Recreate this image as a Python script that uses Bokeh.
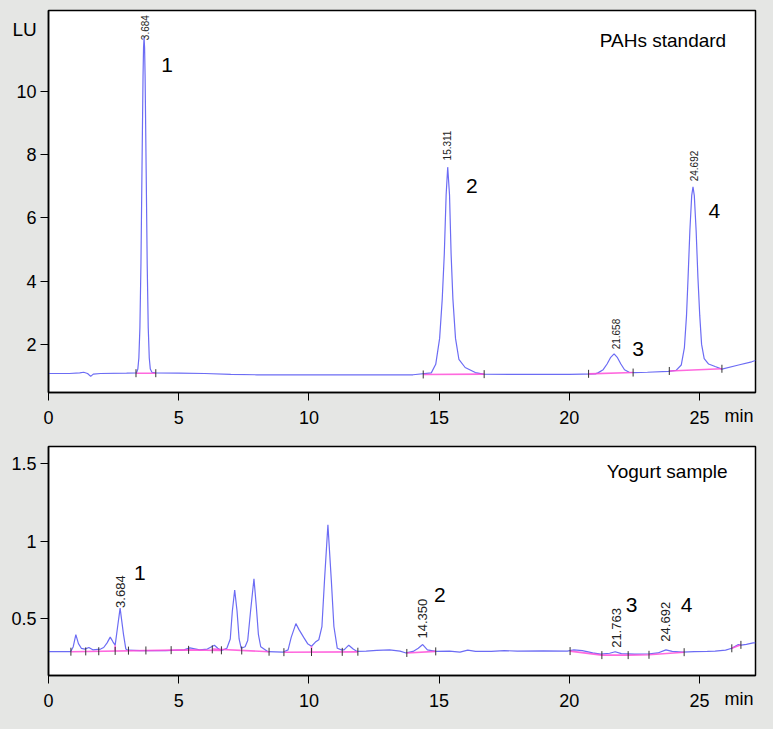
import numpy as np
from bokeh.plotting import figure
from bokeh.layouts import column
from bokeh.models import Range1d, FixedTicker, Label, ColumnDataSource, GlobalInlineStyleSheet
from bokeh.core.properties import value
from bokeh.embed import file_html
from bokeh.resources import INLINE

# ---------------- data ----------------
# PAHs standard chromatogram (time in min, signal in LU)
std_time = [0.0, 0.8, 1.2, 1.35, 1.5, 1.62, 1.72, 2.0, 3.0, 3.38,
            3.43, 3.47, 3.51, 3.55, 3.59, 3.63, 3.65, 3.67, 3.69, 3.71,
            3.75, 3.79, 3.83, 3.87, 3.91, 3.97, 4.10, 5.0, 6.0, 7.0,
            8.0, 10.0, 12.0, 14.0, 14.70, 14.87, 15.02, 15.12, 15.20, 15.27,
            15.33, 15.40, 15.46, 15.53, 15.63, 15.76, 16.00, 16.39, 16.70, 18.0,
            20.0, 21.0, 21.10, 21.30, 21.45, 21.58, 21.72, 21.85, 21.98, 22.12,
            22.30, 22.50, 23.0, 23.8, 24.10, 24.30, 24.42, 24.50, 24.56, 24.63,
            24.70, 24.75, 24.80, 24.87, 24.94, 25.01, 25.08, 25.18, 25.35, 25.60,
            25.86, 26.50, 27.0, 27.15]
std_signal = [1.08, 1.08, 1.10, 1.12, 1.08, 0.99, 1.06, 1.08, 1.09, 1.10,
              1.22, 1.57, 2.53, 4.54, 7.53, 10.45, 11.37, 11.70, 11.37, 10.45,
              7.53, 4.54, 2.53, 1.57, 1.22, 1.12, 1.10, 1.09, 1.08, 1.05,
              1.04, 1.04, 1.04, 1.04, 1.10, 1.37, 2.19, 3.43, 4.87, 6.73,
              7.60, 6.73, 4.87, 3.43, 2.19, 1.53, 1.27, 1.11, 1.06, 1.05,
              1.05, 1.07, 1.10, 1.20, 1.38, 1.58, 1.70, 1.58, 1.38, 1.20,
              1.12, 1.11, 1.12, 1.15, 1.18, 1.35, 1.90, 2.90, 4.10, 5.60,
              6.70, 6.98, 6.70, 5.60, 4.10, 2.90, 2.00, 1.55, 1.38, 1.30,
              1.22, 1.35, 1.45, 1.49]

# Yogurt sample chromatogram
yog_time = [0.0, 0.85, 0.95, 1.05, 1.15, 1.26, 1.40, 1.55, 1.70, 2.00,
            2.12, 2.25, 2.37, 2.48, 2.56, 2.65, 2.75, 2.88, 2.97, 3.05,
            3.5, 4.5, 5.2, 5.43, 5.8, 6.1, 6.37, 6.50, 6.63, 6.85,
            6.98, 7.06, 7.15, 7.24, 7.32, 7.40, 7.55, 7.65, 7.76, 7.89,
            7.98, 8.06, 8.15, 8.43, 9.0, 9.2, 9.32, 9.50, 9.62, 9.80,
            9.95, 10.10, 10.25, 10.38, 10.50, 10.60, 10.73, 10.86, 10.96, 11.09,
            11.25, 11.35, 11.53, 11.70, 11.85, 12.2, 12.6, 13.1, 13.5, 13.73,
            14.0, 14.2, 14.37, 14.55, 14.87, 15.4, 15.8, 16.1, 16.4, 17.0,
            17.5, 18.0, 19.0, 19.92, 20.18, 20.5, 20.9, 21.2, 21.55, 21.76,
            22.0, 22.5, 23.08, 23.4, 23.71, 23.95, 24.34, 24.8, 25.3, 25.6,
            26.0, 26.24, 26.49, 26.6, 26.8, 27.06, 27.15]
yog_signal = [0.288, 0.288, 0.32, 0.398, 0.34, 0.31, 0.305, 0.315, 0.30, 0.305,
              0.315, 0.345, 0.382, 0.35, 0.33, 0.444, 0.568, 0.40, 0.305, 0.298,
              0.295, 0.295, 0.30, 0.313, 0.30, 0.305, 0.33, 0.31, 0.295, 0.31,
              0.37, 0.55, 0.685, 0.55, 0.37, 0.31, 0.32, 0.36, 0.55, 0.757,
              0.58, 0.40, 0.32, 0.288, 0.285, 0.30, 0.38, 0.469, 0.43, 0.38,
              0.34, 0.323, 0.35, 0.365, 0.45, 0.75, 1.105, 0.75, 0.45, 0.31,
              0.30, 0.30, 0.33, 0.305, 0.29, 0.292, 0.297, 0.300, 0.292, 0.28,
              0.29, 0.31, 0.334, 0.30, 0.29, 0.292, 0.285, 0.298, 0.29, 0.29,
              0.295, 0.292, 0.293, 0.292, 0.30, 0.295, 0.28, 0.272, 0.278, 0.288,
              0.276, 0.272, 0.275, 0.28, 0.300, 0.29, 0.285, 0.288, 0.29, 0.292,
              0.298, 0.31, 0.334, 0.33, 0.335, 0.345, 0.345]

# integration baselines (magenta) and event ticks
std_base_t = [[3.36, 4.12], [14.39, 16.73], [20.74, 22.45], [23.84, 25.86]]
std_base_y = [[1.09, 1.09], [1.05, 1.06], [1.07, 1.11], [1.16, 1.23]]
std_tick_t = [3.36, 4.12, 14.39, 16.73, 20.74, 22.45, 23.84, 25.86]
std_tick_y = [1.09, 1.09, 1.05, 1.06, 1.07, 1.11, 1.16, 1.23]

yog_base_t = [[0.86, 5.38, 6.64], [6.29, 8.47], [9.04, 11.88], [13.76, 14.87],
              [20.03, 21.25, 22.26, 23.06, 24.41], [26.24, 26.59],
              [2.56, 2.56], [10.1, 10.1]]
yog_base_y = [[0.288, 0.300, 0.296], [0.305, 0.288], [0.285, 0.287], [0.28, 0.29],
              [0.292, 0.266, 0.266, 0.268, 0.285], [0.31, 0.332],
              [0.33, 0.293], [0.323, 0.286]]
yog_tick_t = [0.86, 1.43, 1.93, 2.56, 3.07, 3.74, 4.71, 5.38, 6.29, 6.64, 7.42, 8.47,
              9.04, 10.1, 11.28, 11.88, 13.76, 14.87, 20.03, 21.25, 22.26, 23.06,
              24.41, 26.24, 26.59]
yog_tick_y = [0.288, 0.290, 0.291, 0.293, 0.295, 0.296, 0.298, 0.300, 0.303, 0.297,
              0.296, 0.288, 0.285, 0.286, 0.287, 0.288, 0.28, 0.29, 0.292, 0.266,
              0.266, 0.268, 0.285, 0.31, 0.332]

# retention-time annotations
std_rt_t = [3.70, 15.32, 21.78, 24.78]
std_rt_y = [11.55, 7.75, 1.78, 7.09]
std_rt_text = ["3.684", "15.311", "21.658", "24.692"]
yog_rt_t = [2.78, 14.37, 21.82, 23.71]
yog_rt_y = [0.557, 0.36, 0.30, 0.34]
yog_rt_text = ["3.684", "14.350", "21.763", "24.692"]

# peak numbers
std_num_t = [4.55, 16.26, 22.64, 25.57]
std_num_y = [10.84, 7.01, 1.84, 6.21]
yog_num_t = [3.51, 15.03, 22.39, 24.50]
yog_num_y = [0.796, 0.656, 0.589, 0.589]
peak_numbers = ["1", "2", "3", "4"]

x_range = (0, 27.15)
x_ticks = [0, 5, 10, 15, 20, 25]
std_y_range = (0.48, 12.55)
std_y_ticks = [2, 4, 6, 8, 10]
yog_y_range = (0.135, 1.608)
yog_y_ticks = [0.5, 1.0, 1.5]

# ---------------- styling ----------------
GREY = "#e5e6e4"
TRACE = "#6c6cf4"
PINK = "#ff4fd8"
FONT = "Liberation Sans"


def make_fig(height, y_range, y_ticks, top, bottom):
    p = figure(width=757, height=height, output_backend="svg", toolbar_location=None,
               x_range=Range1d(*x_range), y_range=Range1d(*y_range))
    p.min_border_left = 48
    p.min_border_right = 2
    p.min_border_top = top
    p.min_border_bottom = bottom
    p.border_fill_color = GREY
    p.background_fill_color = "white"
    p.outline_line_color = "black"
    p.outline_line_width = 1.5
    p.grid.visible = False
    p.xaxis.ticker = FixedTicker(ticks=x_ticks)
    p.yaxis.ticker = FixedTicker(ticks=y_ticks)
    for ax in (p.xaxis[0], p.yaxis[0]):
        ax.axis_line_color = "black"
        ax.axis_line_width = 1.5
        ax.major_tick_line_color = "black"
        ax.major_tick_line_width = 1
        ax.major_tick_out = 8
        ax.major_tick_in = 0
        ax.minor_tick_out = 0
        ax.minor_tick_in = 0
        ax.major_label_text_font = FONT
        ax.major_label_text_font_size = "18px"
        ax.major_label_text_color = "black"
    p.xaxis.major_label_standoff = 10
    p.yaxis.major_label_standoff = 4
    return p


p1 = make_fig(430, std_y_range, std_y_ticks, 10, 38)
p2 = make_fig(283, yog_y_range, yog_y_ticks, 16, 38)


def draw(p, t, s, bt, by, tt, ty, rt, ry, rtext, nt, ny, rt_size):
    p.line(t, s, line_color=TRACE, line_width=1.2)
    p.multi_line(bt, by, line_color=PINK, line_width=1.6, line_alpha=0.85)
    p.scatter(tt, ty, marker="dash", size=8, angle=np.pi / 2, line_color="#333333", line_width=1)
    src = ColumnDataSource(dict(x=rt, y=ry, text=rtext))
    p.text(x="x", y="y", text="text", source=src, angle=np.pi / 2, text_align="left",
           text_baseline="middle", y_offset=-2, text_font=value(FONT), text_font_size=rt_size,
           text_color="#222222")
    nsrc = ColumnDataSource(dict(x=nt, y=ny, text=peak_numbers))
    p.text(x="x", y="y", text="text", source=nsrc, text_align="center",
           text_baseline="alphabetic", text_font=value(FONT), text_font_size="21px",
           text_color="black")
    # "min" unit beside the last x tick label, drawn above the clip region
    p.text(x=[x_range[1]], y=[p.y_range.start], text=["min"], level="overlay",
           x_offset=-31, y_offset=23, text_align="left", text_baseline="alphabetic",
           text_font=value(FONT), text_font_size="18px", text_color="black")


draw(p1, std_time, std_signal, std_base_t, std_base_y, std_tick_t, std_tick_y,
     std_rt_t, std_rt_y, std_rt_text, std_num_t, std_num_y, "10px")
draw(p2, yog_time, yog_signal, yog_base_t, yog_base_y, yog_tick_t, yog_tick_y,
     yog_rt_t, yog_rt_y, yog_rt_text, yog_num_t, yog_num_y, "13px")

p1.add_layout(Label(x=21.17, y=11.6, text="PAHs standard", text_font=FONT,
                    text_font_size="19px", text_baseline="alphabetic", text_color="black"))
p2.add_layout(Label(x=21.44, y=1.45, text="Yogurt sample", text_font=FONT,
                    text_font_size="19px", text_baseline="alphabetic", text_color="black"))
# "LU" unit at the top left corner, outside the frame
p1.text(x=[x_range[0]], y=[std_y_range[1]], text=["LU"], level="overlay",
        x_offset=-36, y_offset=19, text_align="left", text_baseline="alphabetic",
        text_font=value(FONT), text_font_size="19px", text_color="black")

layout = column(p1, p2, spacing=0,
                stylesheets=[GlobalInlineStyleSheet(css="html, body { background-color: #e5e6e4; }")])

open("out.html", "w").write(file_html(layout, INLINE))
